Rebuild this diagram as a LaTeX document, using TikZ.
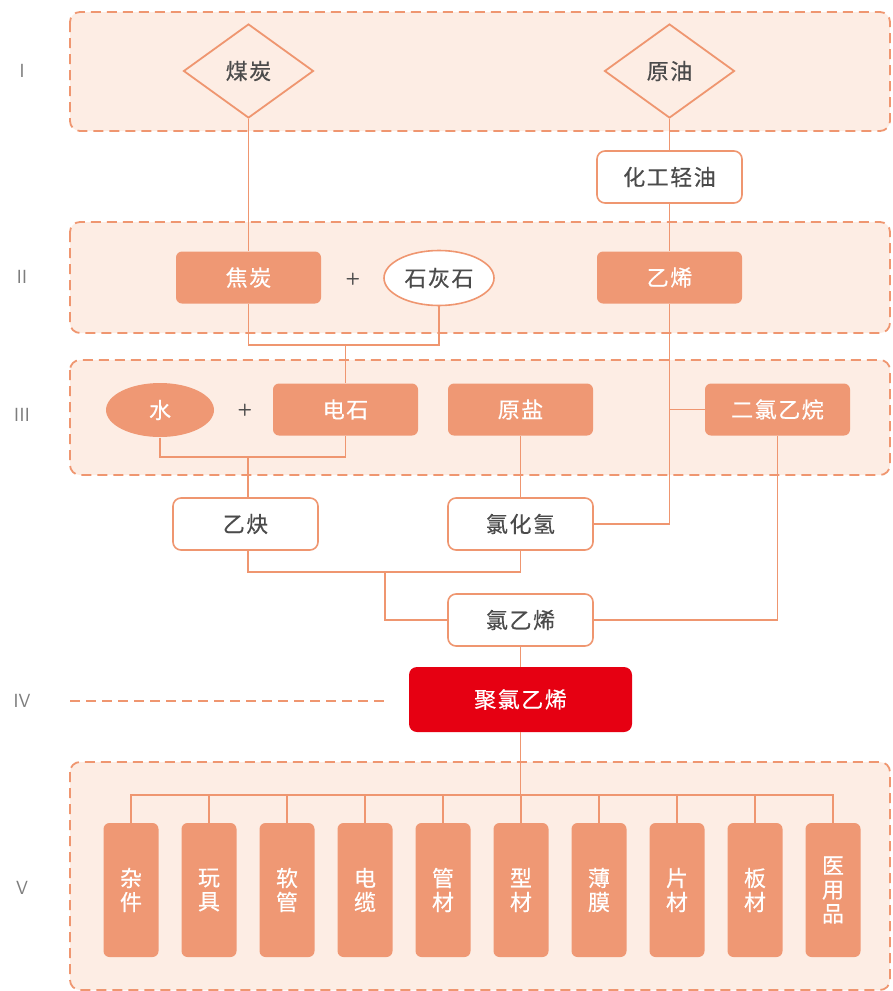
\documentclass[tikz,border=0pt]{standalone}
\usepackage{fontspec}
\setmainfont{Noto Sans CJK SC}
\usetikzlibrary{shapes.geometric}
\definecolor{bandfill}{RGB}{253,237,228}
\definecolor{edge}{RGB}{239,150,112}
\definecolor{boxfill}{RGB}{239,152,116}
\definecolor{pvcred}{RGB}{230,0,18}
\definecolor{txt}{RGB}{75,75,75}
\definecolor{roman}{RGB}{125,125,125}
\newcommand{\cjkfont}{\fontsize{22}{25}\selectfont\addfontfeatures{LetterSpace=7,FakeBold=0.5}}
\tikzset{
  band/.style={draw=edge, fill=bandfill, dash pattern=on 10pt off 6pt, line width=1.8pt, rounded corners=10pt},
  link/.style={draw=edge, line width=1.9pt},
  ofill/.style={fill=boxfill, draw=none, rounded corners=6pt, text=white, minimum width=145pt, minimum height=52pt, inner sep=0pt, font=\cjkfont},
  wbox/.style={fill=white, draw=edge, line width=1.6pt, rounded corners=8pt, text=txt, minimum width=145pt, minimum height=52pt, inner sep=0pt, font=\cjkfont},
  dia/.style={diamond, draw=edge, line width=1.8pt, fill=bandfill, minimum width=130pt, minimum height=94pt, inner sep=0pt, text=txt, font=\cjkfont},
  ell/.style={ellipse, draw=edge, line width=1.6pt, fill=white, minimum width=110pt, minimum height=55pt, inner sep=0pt, text=txt, font=\cjkfont},
  prod/.style={fill=boxfill, draw=none, rounded corners=6pt, text=white, minimum width=55pt, minimum height=134pt, inner sep=0pt, align=center, font=\fontsize{22}{24}\selectfont\addfontfeatures{FakeBold=0.5}},
  rom/.style={text=roman, font=\sffamily\fontsize{19}{22}\selectfont},
  plus/.style={text=txt, font=\sffamily\bfseries\fontsize{17}{18}\selectfont}
}
\begin{document}
\begin{tikzpicture}[x=1pt,y=-1pt]
\useasboundingbox (0,0) rectangle (892,991);
% bands
\draw[band] (70,12) rectangle (890,131);
\draw[band] (70,222) rectangle (890,333);
\draw[band] (70,360) rectangle (890,475);
\draw[band] (70,762) rectangle (890,990);
\draw[edge, dash pattern=on 10pt off 6pt, line width=1.8pt] (70,701) -- (385,701);
% roman labels
\node[rom] (rI) at (22,71) {I};
\node[rom] (rII) at (22,277) {II};
\node[rom] (rIII) at (22,415) {III};
\node[rom] (rIV) at (22,701) {IV};
\node[rom] (rV) at (22,888) {V};
% nodes
\node[dia] (coal) at (248.5,71) {煤炭};
\node[dia] (oil) at (669.5,71) {原油};
\node[wbox] (naph) at (669.5,177) {化工轻油};
\node[ofill] (coke) at (248.5,277.5) {焦炭};
\node[plus] (p1) at (353,279) {+};
\node[ell] (lime) at (439,278) {石灰石};
\node[ofill] (eth) at (669.5,277.5) {乙烯};
\node[ell, fill=boxfill, draw=none, text=white, minimum width=108pt, minimum height=54pt] (water) at (160,410) {水};
\node[plus] (p2) at (245,410) {+};
\node[ofill] (carb) at (345.5,409.5) {电石};
\node[ofill] (salt) at (520.5,409.5) {原盐};
\node[ofill] (edc) at (777.5,409.5) {二氯乙烷};
\node[wbox] (acet) at (245.5,524) {乙炔};
\node[wbox] (hcl) at (520.5,524) {氯化氢};
\node[wbox] (vcm) at (520.5,620) {氯乙烯};
\node[ofill, fill=pvcred, minimum width=223pt, minimum height=65pt, rounded corners=8pt] (pvc) at (520.5,699.5) {聚氯乙烯};
% products
\foreach \i/\t in {0/{杂\\件},1/{玩\\具},2/{软\\管},3/{电\\缆},4/{管\\材},5/{型\\材},6/{薄\\膜},7/{片\\材},8/{板\\材},9/{医\\用\\品}}{
  \node[prod] (pr\i) at ({131+78*\i},890) {\t};
}
% connectors
\coordinate (j1) at (345.5,345);
\draw[link] (coal.south) -- (coke.north);
\draw[link] (oil.south) -- (naph.north);
\draw[link] (naph.south) -- (eth.north);
\draw[link] (coke.south) |- (j1) -| (lime.south);
\draw[link] (j1) -- (carb.north);
\coordinate (j2) at (248,457);
\draw[link] (water.south) |- (j2) -| (carb.south);
\draw[link] (j2) -- (acet.north -| j2);
\draw[link] (salt.south) -- (hcl.north);
\draw[link] (eth.south) -- (669.5,524) -- (hcl.east);
\draw[link] (669.5,409.5) -- (edc.west);
\coordinate (j3) at (385,572);
\draw[link] (acet.south -| j2) |- (j3) -| (hcl.south);
\draw[link] (j3) |- (vcm.west);
\draw[link] (edc.south) |- (vcm.east);
\draw[link] (vcm.south) -- (pvc.north);
\coordinate (bus) at (520.5,795);
\draw[link] (pvc.south) -- (bus);
\draw[link] (pr0.north) |- (bus) -| (pr9.north);
\foreach \i in {1,...,8}{ \draw[link] (pr\i.north) -- (pr\i.north |- bus); }
\end{tikzpicture}
\end{document}
